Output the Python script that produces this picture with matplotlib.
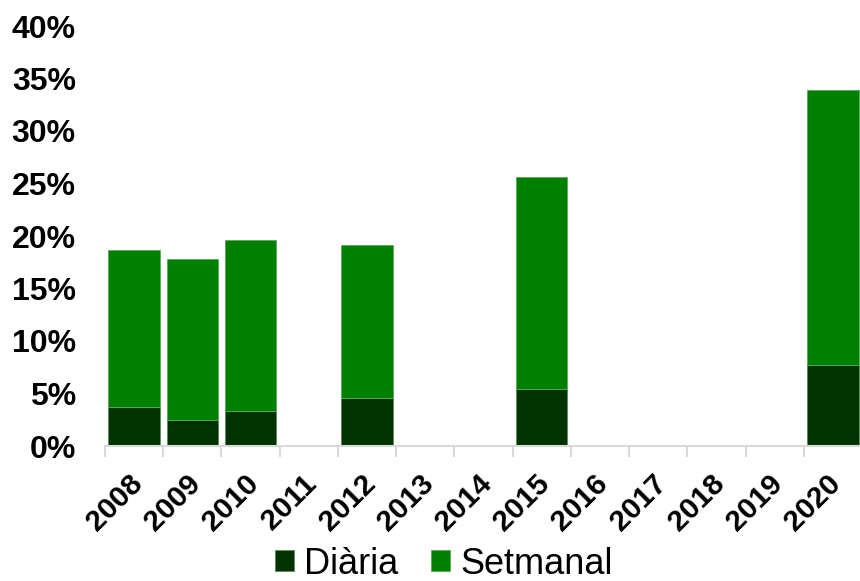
import matplotlib.pyplot as plt
import matplotlib.transforms as mtransforms
import numpy as np

years = ['2008', '2009', '2010', '2011', '2012', '2013', '2014',
         '2015', '2016', '2017', '2018', '2019', '2020']
# percentages, NaN where there is no survey
diaria = [3.7, 2.5, 3.3, np.nan, 4.6, np.nan, np.nan,
          5.4, np.nan, np.nan, np.nan, np.nan, 7.7]
setmanal = [15.0, 15.3, 16.3, np.nan, 14.5, np.nan, np.nan,
            20.2, np.nan, np.nan, np.nan, np.nan, 26.2]

dark = '#003300'
green = '#008000'

plt.rcParams['font.family'] = ['Liberation Sans', 'DejaVu Sans']

fig = plt.figure(figsize=(8.6, 5.81), dpi=100)
ax = fig.add_axes([105 / 860, (581 - 446) / 581, 757 / 860, 420 / 581])

x = np.arange(len(years))
d = np.array(diaria)
s = np.array(setmanal)
ax.bar(x, d, width=0.88, color=dark, edgecolor='#5a8a5a', linewidth=0.6, label='Diària')
ax.bar(x, s, bottom=d, width=0.88, color=green, edgecolor='#5aaa5a', linewidth=0.6,
       label='Setmanal')

ax.set_xlim(-0.5, len(years) - 0.5)
ax.set_ylim(0, 40)
ax.set_yticks(range(0, 41, 5))
ax.set_yticklabels([f'{v}%' for v in range(0, 41, 5)], fontsize=23, fontweight='bold')
ax.tick_params(axis='y', length=0, pad=21)

ax.set_xticks(x)
ax.set_xticklabels(years, rotation=45, ha='right', rotation_mode='anchor',
                   fontsize=21.5, fontweight='bold')
ax.set_xticks(np.arange(-0.5, len(years)), minor=True)
ax.tick_params(axis='x', which='major', length=0, pad=17)
ax.tick_params(axis='x', which='minor', length=8, width=1.5, color='#d9d9d9')

# nudge rotated year labels a little to the left
shift = mtransforms.ScaledTranslation(-6 / 100, 0, fig.dpi_scale_trans)
for lab in ax.get_xticklabels():
    lab.set_transform(lab.get_transform() + shift)

for sp in ['left', 'right', 'top']:
    ax.spines[sp].set_visible(False)
ax.spines['bottom'].set_color('#d9d9d9')
ax.spines['bottom'].set_linewidth(1.5)

fig.legend(loc='center', bbox_to_anchor=(444 / 860, 1 - 564 / 581), ncol=2,
           frameon=False, fontsize=26, handlelength=0.53, handleheight=0.53,
           handletextpad=0.28, columnspacing=0.9, borderpad=0.1)

fig.savefig('out.png', dpi=100)
